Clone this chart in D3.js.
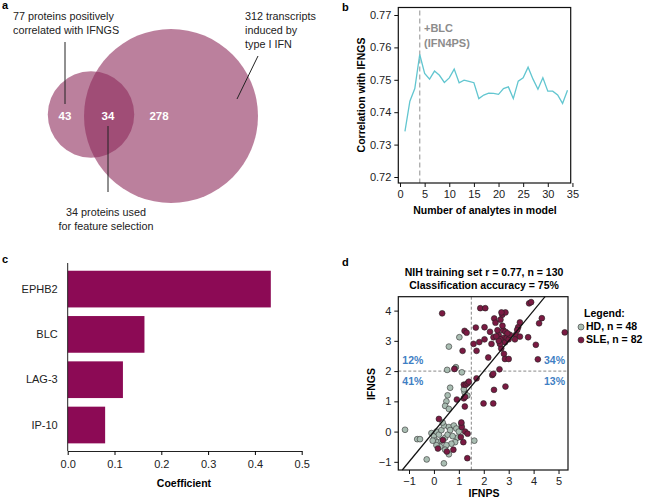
<!DOCTYPE html>
<html><head><meta charset="utf-8">
<script src="https://cdn.jsdelivr.net/npm/d3@7"></script>
<style>
body{margin:0;background:#fff}
svg{font-family:"Liberation Sans",Arial,sans-serif}
</style></head>
<body><svg id="c" width="655" height="500"></svg>
<script>
// ---- Panel a: Venn ----
const vennSets = [77, 312];
const vennCounts = [43, 34, 278];
// ---- Panel b ----
const nAnalytes = d3.range(1, 35);
const corrValues = [0.7341,0.7434,0.7473,0.7578,0.7520,0.7502,0.7527,0.7514,0.7492,0.7506,
  0.7533,0.7491,0.7499,0.7495,0.7491,0.7442,0.7453,0.7459,0.7458,0.7455,
  0.7473,0.7478,0.7442,0.7496,0.7506,0.7539,0.7502,0.7471,0.7506,0.7465,
  0.7465,0.7453,0.7427,0.7468];
const bTicksY = [0.72,0.73,0.74,0.75,0.76,0.77];
const bTicksX = [0,5,10,15,20,25,30,35];
// ---- Panel c ----
const proteins = ["EPHB2","BLC","LAG-3","IP-10"];
const coefs = [0.434,0.164,0.118,0.080];
const cTicks = [0,0.1,0.2,0.3,0.4,0.5];
// ---- Panel d ----
const sleX = [0.33,1.86,2.06,3.82,3.90,4.33,4.22,2.42,2.74,2.87,2.71,2.47,2.67,
  2.03,1.68,1.23,1.31,1.15,1.59,1.82,1.71,2.03,2.18,2.31,2.39,
  2.6,2.78,2.8,2.85,2.92,3.0,3.05,2.87,2.66,2.7,2.81,2.85,3.0,2.65,2.55,2.95,2.75,2.6,
  3.29,3.38,3.45,3.34,3.45,3.78,4.09,4.17,5.25,
  2.63,2.34,2.38,2.87,2.41,1.99,2.38,1.71,
  1.2,1.28,1.35,1.4,0.82,0.92,1.2,1.25,1.24,
  0.2,1.12,1.25,1.35,1.18,1.08,0.36,0.16,0.52,0.78,1.34,
  3.25,2.5,2.25,1.1];
const sleY = [3.91,4.08,4.08,4.24,4.28,3.75,3.58,3.74,3.86,3.94,3.94,3.6,3.7,
  3.45,3.44,3.33,3.27,2.67,2.9,2.96,2.67,3.05,2.45,2.9,3.12,
  3.2,3.35,3.1,2.95,3.1,3.05,3.2,3.3,3.05,2.75,2.57,2.4,2.4,2.9,3.35,3.25,3.5,3.0,
  3.2,3.45,3.61,3.36,3.14,3.12,2.87,2.39,3.28,
  2.06,1.87,1.91,1.49,1.38,0.93,0.93,1.76,
  1.55,1.55,1.6,1.65,2.07,1.06,1.1,1.15,0.83,
  0.42,0.15,0.0,-0.07,-0.35,-0.18,-0.28,-0.56,-0.66,-0.6,-0.88,
  3.05,3.15,3.3,0.3];
const hdX = [1.02,0.6,0.53,0.88,0.84,1.12,
  0.65,0.55,0.5,0.45,0.6,1.23,1.34,1.2,
  -1.16,-0.67,-0.56,-0.29,0.4,1.62,
  -0.1,0.0,0.1,0.2,0.3,0.05,0.15,0.3,0.45,0.55,0.4,0.35,0.6,0.8,0.9,1.0,0.95,0.85,0.7,0.5,0.25,0.1,-0.05,0.65,0.75,0.45,0.6,1.1];
const hdY = [3.12,2.81,2.04,2.13,2.08,1.96,
  1.45,1.2,1.0,0.85,0.75,1.3,1.19,1.4,
  0.06,-0.25,-0.25,-0.92,-1.05,-0.3,
  -0.05,-0.15,0.0,-0.1,0.05,-0.3,-0.35,-0.3,-0.2,-0.1,0.2,0.3,0.15,0.2,0.1,0.0,-0.2,-0.35,-0.4,-0.45,-0.5,-0.45,-0.3,0.05,-0.15,-0.6,-0.75,0.25];
const dTicksX = [-1,0,1,2,3,4,5];
const dTicksY = [-1,0,1,2,3,4];
const quadLabels = ["12%","41%","34%","13%"];
const legendLabels = ["HD, n = 48","SLE, n = 82"];

const svg = d3.select("#c");
const FONT = 10;
function panelLabel(t,x,y){svg.append("text").attr("x",x).attr("y",y).attr("font-size",11).attr("font-weight","bold").text(t);}
const minus = s => String(s).replace("-","\u2212");

// ===== Panel a =====
panelLabel("a",2,9);
{
  const g = svg.append("g");
  const r = d3.scaleSqrt().domain([0,312]).range([0,87]);
  const col = "rgb(141,43,92)";
  const big = {cx:171,cy:116,r:r(vennSets[1])};
  const small = {cx:91,cy:114.5,r:r(vennSets[0])};
  g.append("circle").attr("cx",big.cx).attr("cy",big.cy).attr("r",big.r).attr("fill",col).attr("fill-opacity",0.6);
  g.append("circle").attr("cx",small.cx).attr("cy",small.cy).attr("r",small.r).attr("fill",col).attr("fill-opacity",0.6);
  const numPos = [[65,117],[108,117],[159,117]];
  vennCounts.forEach((v,i)=>g.append("text").attr("x",numPos[i][0]).attr("y",numPos[i][1]).attr("text-anchor","middle").attr("dominant-baseline","middle")
     .attr("fill","#fff").attr("font-weight","bold").attr("font-size",11.5).text(v));
  const lines=[[65,42,65,104],[108,126,108,192],[258,56,237,99]];
  lines.forEach(l=>g.append("line").attr("x1",l[0]).attr("y1",l[1]).attr("x2",l[2]).attr("y2",l[3]).attr("stroke","#222").attr("stroke-width",1));
  const t1 = g.append("text").attr("font-size",10.8).attr("fill","#222");
  t1.append("tspan").attr("x",13).attr("y",20).text("77 proteins positively");
  t1.append("tspan").attr("x",13).attr("y",34).text("correlated with IFNGS");
  const t2 = g.append("text").attr("font-size",10.8).attr("fill","#222");
  ["312 transcripts","induced by","type I IFN"].forEach((s,i)=>t2.append("tspan").attr("x",245).attr("y",20+i*14).text(s));
  const t3 = g.append("text").attr("font-size",10.8).attr("fill","#222").attr("text-anchor","middle");
  t3.append("tspan").attr("x",106).attr("y",216).text("34 proteins used");
  t3.append("tspan").attr("x",106).attr("y",230).text("for feature selection");
}

// ===== Panel b =====
panelLabel("b",342,11);
{
  const L=398.3,R=570.7,T=7.5,B=183;
  const x = d3.scaleLinear().domain([-0.35,34.65]).range([L,R]);
  const y = d3.scaleLinear().domain([0.72-6/3240,0.77+7.5/3240]).range([B,T]);
  const g = svg.append("g");
  g.append("line").attr("x1",x(4)).attr("x2",x(4)).attr("y1",T+3).attr("y2",B).attr("stroke","#aaa").attr("stroke-width",1.3).attr("stroke-dasharray","5,3");
  g.append("path").datum(corrValues).attr("fill","none").attr("stroke","#62c6d0").attr("stroke-width",1.3)
    .attr("d",d3.line().x((d,i)=>x(nAnalytes[i])).y(d=>y(d)));
  const bt = g.append("text").attr("font-size",11).attr("font-weight","bold").attr("fill","#8c8c8c");
  bt.append("tspan").attr("x",424).attr("y",32).text("+BLC");
  bt.append("tspan").attr("x",424).attr("y",47).text("(IFN4PS)");
  g.append("rect").attr("x",L).attr("y",T).attr("width",R-L).attr("height",B-T).attr("fill","none").attr("stroke","#111").attr("stroke-width",1.2);
  const ax = g.append("g").attr("transform",`translate(0,${B})`).call(d3.axisBottom(x).tickValues(bTicksX).tickSize(4).tickSizeOuter(0));
  const ay = g.append("g").attr("transform",`translate(${L},0)`).call(d3.axisLeft(y).tickValues(bTicksY).tickFormat(d3.format(".2f")).tickSize(4).tickSizeOuter(0));
  [ax,ay].forEach(a=>{a.select(".domain").remove();a.selectAll("text").attr("font-size",11).attr("fill","#222");a.selectAll("line").attr("stroke","#111");});
  g.append("text").attr("x",485).attr("y",214).attr("text-anchor","middle").attr("font-size",10.5).attr("font-weight","bold").text("Number of analytes in model");
  g.append("text").attr("transform","translate(365,95) rotate(-90)").attr("text-anchor","middle").attr("font-size",10.5).attr("font-weight","bold").text("Correlation with IFNGS");
}

// ===== Panel c =====
panelLabel("c",2,263);
{
  const L=67.7, Bax=451;
  const x = d3.scaleLinear().domain([0,0.5]).range([L,301.7]);
  const y = d3.scaleBand().domain(proteins).range([265.3,448.8]).paddingInner(0.19).paddingOuter(0.12);
  const g = svg.append("g");
  g.selectAll("rect.bar").data(proteins).join("rect").attr("class","bar")
    .attr("x",x(0)).attr("y",d=>y(d)).attr("width",(d,i)=>x(coefs[i])-x(0)).attr("height",y.bandwidth())
    .attr("fill","#8c0a55");
  const ax = g.append("g").attr("transform",`translate(0,${Bax})`).call(d3.axisBottom(x).tickValues(cTicks).tickFormat(d3.format(".1f")).tickSize(4).tickSizeOuter(0));
  ax.select(".domain").attr("stroke","#222");
  ax.selectAll("text").attr("font-size",11).attr("fill","#222").attr("dy","0.9em");
  const ay = g.append("g").attr("transform",`translate(${L},0)`).call(d3.axisLeft(y).tickSize(0).tickPadding(10));
  ay.select(".domain").remove();
  ay.selectAll("text").attr("font-size",11).attr("fill","#222");
  g.append("line").attr("x1",L).attr("x2",L).attr("y1",263).attr("y2",Bax).attr("stroke","#222");
  g.append("text").attr("x",184).attr("y",487).attr("text-anchor","middle").attr("font-size",10.5).attr("font-weight","bold").text("Coefficient");
}

// ===== Panel d =====
panelLabel("d",342,266);
{
  const L=398.3,R=568,T=296.7,B=470;
  const x = d3.scaleLinear().domain([-1.43,5.38]).range([L,R]);
  const y = d3.scaleLinear().domain([-1.27,4.46]).range([B,T]);
  const g = svg.append("g");
  const tt = g.append("text").attr("text-anchor","middle").attr("font-size",10.5).attr("font-weight","bold");
  tt.append("tspan").attr("x",484).attr("y",276).text("NIH training set r = 0.77, n = 130");
  tt.append("tspan").attr("x",484).attr("y",289).text("Classification accuracy = 75%");
  g.append("line").attr("x1",x(1.5)).attr("x2",x(1.5)).attr("y1",T).attr("y2",B).attr("stroke","#888").attr("stroke-dasharray","3,2");
  g.append("line").attr("x1",L).attr("x2",R).attr("y1",y(2)).attr("y2",y(2)).attr("stroke","#888").attr("stroke-dasharray","3,2");
  const hd = hdX.map((v,i)=>[v,hdY[i]]);
  const sle = sleX.map((v,i)=>[v,sleY[i]]);
  g.selectAll("circle.hd").data(hd).join("circle").attr("class","hd").attr("cx",d=>x(d[0])).attr("cy",d=>y(d[1])).attr("r",2.9)
    .attr("fill","#a9bdb2").attr("stroke","#333").attr("stroke-width",0.6);
  g.selectAll("circle.sle").data(sle).join("circle").attr("class","sle").attr("cx",d=>x(d[0])).attr("cy",d=>y(d[1])).attr("r",2.9)
    .attr("fill","#7a1a42").attr("stroke","#222").attr("stroke-width",0.6);
  g.append("line").attr("x1",x(-1.27)).attr("y1",y(-1.27)).attr("x2",x(4.46)).attr("y2",y(4.46)).attr("stroke","#111").attr("stroke-width",1.2);
  const qp = [[L+4,y(2)-10,"start"],[L+4,y(2)+11,"start"],[R-3,y(2)-10,"end"],[R-3,y(2)+11,"end"]];
  quadLabels.forEach((s,i)=>g.append("text").attr("x",qp[i][0]).attr("y",qp[i][1]).attr("text-anchor",qp[i][2]).attr("dominant-baseline","middle")
    .attr("fill","#3f7fc4").attr("font-weight","bold").attr("font-size",10.5).text(s));
  g.append("rect").attr("x",L).attr("y",T).attr("width",R-L).attr("height",B-T).attr("fill","none").attr("stroke","#111").attr("stroke-width",1.2);
  const ax = g.append("g").attr("transform",`translate(0,${B})`).call(d3.axisBottom(x).tickValues(dTicksX).tickFormat(minus).tickSize(4).tickSizeOuter(0));
  const ay = g.append("g").attr("transform",`translate(${L},0)`).call(d3.axisLeft(y).tickValues(dTicksY).tickFormat(minus).tickSize(4).tickSizeOuter(0));
  [ax,ay].forEach(a=>{a.select(".domain").remove();a.selectAll("text").attr("font-size",11).attr("fill","#222");a.selectAll("line").attr("stroke","#111");});
  g.append("text").attr("x",484).attr("y",497).attr("text-anchor","middle").attr("font-size",10.5).attr("font-weight","bold").text("IFNPS");
  g.append("text").attr("transform","translate(375,384) rotate(-90)").attr("text-anchor","middle").attr("font-size",10.5).attr("font-weight","bold").text("IFNGS");
  g.append("text").attr("x",584).attr("y",317).attr("font-size",10.5).attr("font-weight","bold").text("Legend:");
  const lc = ["#a9bdb2","#7a1a42"];
  legendLabels.forEach((s,i)=>{
    g.append("circle").attr("cx",581).attr("cy",327+i*13).attr("r",3).attr("fill",lc[i]).attr("stroke","#333").attr("stroke-width",0.6);
    g.append("text").attr("x",586).attr("y",327+i*13).attr("dominant-baseline","middle").attr("font-size",10.5).attr("font-weight","bold").text(s);
  });
}
</script></body></html>
